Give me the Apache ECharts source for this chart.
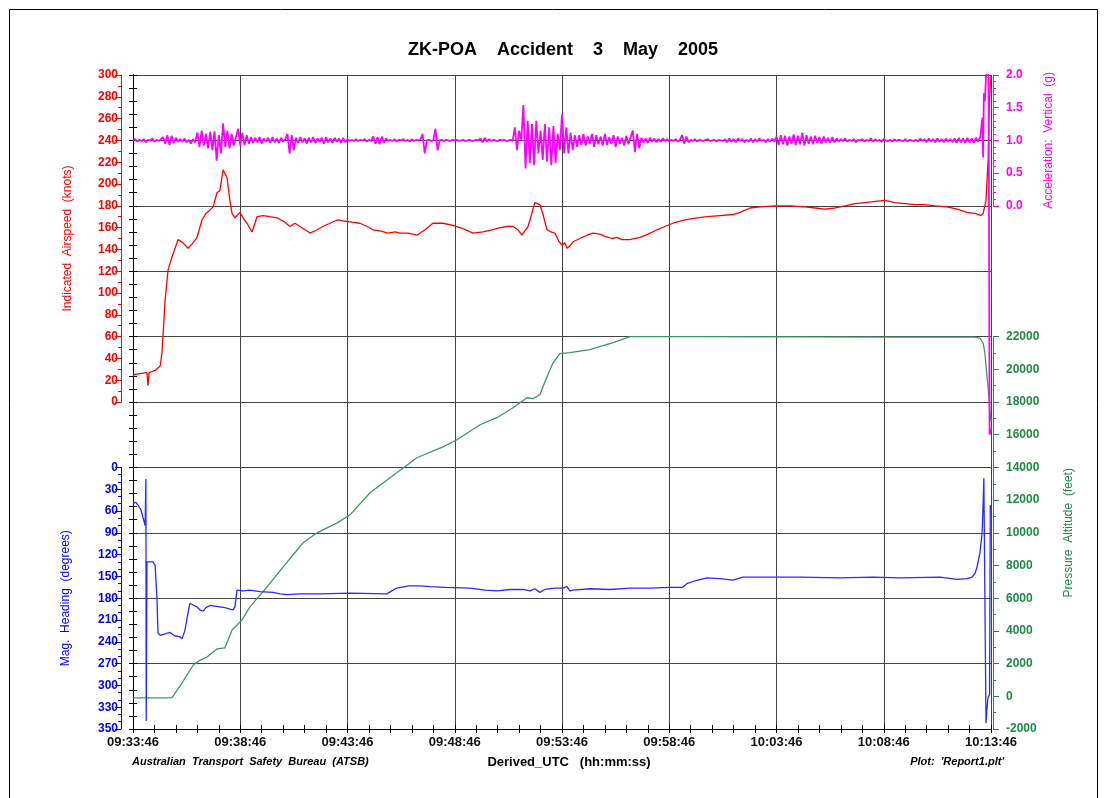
<!DOCTYPE html>
<html>
<head>
<meta charset="utf-8">
<script src="https://cdn.jsdelivr.net/npm/echarts@6/dist/echarts.min.js"></script>
<style>
html,body{margin:0;padding:0;background:#fff;}
#chart{width:1106px;height:798px;}
</style>
</head>
<body>
<div id="chart"></div>
<script>
// ---- time axis (seconds after 09:33:46) ----
const timeTickLabels = ['09:33:46','09:38:46','09:43:46','09:48:46','09:53:46','09:58:46','10:03:46','10:08:46','10:13:46'];
const headingTickLabels = ['0','30','60','90','120','150','180','210','240','270','300','330','350'];

// ---- Indicated airspeed (knots): [seconds, kt] ----
const airspeed = [
[0,25],[20,26],[39,27],[42,15],[45,27],[62,29],[76,33],[81,45],[90,94],[98,121],[109,133],[126,149],[140,146],
[154,141],[168,146],[179,151],[193,167],[204,173],[215,176],[224,179],[235,192],[243,194],[252,213],[263,206],
[271,185],[277,173],[285,169],[299,174],[310,168],[319,164],[333,156],[347,170],[364,171],[383,170],[403,169],
[425,165],[439,161],[453,164],[467,161],[495,155],[515,158],[531,161],[551,164],[571,167],[593,166],[613,165],
[635,164],[655,161],[671,158],[691,157],[713,155],[733,156],[747,155],[769,155],[794,153],[817,158],[839,164],
[867,164],[895,162],[923,159],[951,155],[979,156],[1004,158],[1027,160],[1046,161],[1063,161],[1077,158],
[1088,153],[1096,157],[1105,161],[1113,170],[1124,183],[1138,181],[1147,172],[1158,158],[1169,156],[1180,155],
[1192,147],[1200,144],[1208,146],[1214,141],[1222,143],[1231,147],[1250,150],[1270,153],[1287,155],[1306,154],
[1320,152],[1340,150],[1354,151],[1368,149],[1390,149],[1418,151],[1441,154],[1466,158],[1488,161],[1510,164],
[1544,167],[1578,169],[1606,170],[1642,171],[1678,172],[1698,174],[1726,178],[1754,179],[1796,180],[1838,180],
[1880,179],[1908,178],[1935,177],[1964,178],[1992,180],[2020,182],[2048,183],[2076,184],[2104,185],[2131,183],
[2159,182],[2187,181],[2215,181],[2243,180],[2277,179],[2305,177],[2333,174],[2355,173],[2366,172],[2372,171],
[2378,173],[2386,185],[2392,222],[2394,260],[2397,285],[2400,300]
];

// ---- Vertical acceleration (g): sampled every 6 s from 09:33:46 ----
const accelStepSec = 6;
const accelValues = [
1.00,1.02,0.98,1.01,0.99,1.02,0.97,1.01,1.00,1.03,0.98,1.01,0.99,1.02,
1.05,0.95,1.08,0.93,1.07,0.96,1.04,0.98,
1.02,0.98,1.03,0.97,1.01,0.95,1.02,0.97,
1.12,0.90,1.15,0.92,1.10,0.88,1.13,
0.85,1.14,0.69,1.08,0.80,
1.26,0.90,1.15,0.88,1.10,0.92,1.05,1.18,0.92,1.12,0.93,1.08,0.95,1.05,
0.96,1.04,0.97,1.05,0.95,1.03,0.98,1.04,0.96,1.05,0.97,1.03,0.96,1.04,0.98,1.02,
1.10,0.80,1.08,0.85,
1.04,0.96,1.05,0.97,1.03,0.95,1.04,0.97,1.05,0.96,1.03,0.98,1.04,0.95,1.05,0.97,1.03,0.96,1.04,0.98,1.03,0.96,1.04,0.97,1.02,
0.99,1.01,0.99,1.02,0.99,1.01,1.00,1.02,0.98,1.01,0.99,
1.06,0.95,1.05,0.94,1.06,0.96,1.03,
0.99,1.01,0.99,1.02,0.98,1.01,1.00,1.02,0.99,1.01,0.98,1.02,0.99,1.01,1.00,1.01,
1.10,0.80,
1.00,1.01,0.99,1.00,
1.18,0.85,
1.00,1.01,0.99,1.01,1.00,0.99,1.01,1.00,1.01,0.99,1.00,1.01,0.99,1.00,1.01,0.99,1.00,1.01,1.00,
1.03,0.97,1.04,0.98,1.02,
0.99,1.01,1.00,0.99,1.01,1.00,1.01,0.99,1.00,1.01,0.99,
1.20,0.85,1.15,
1.00,1.54,0.57,1.30,0.65,1.25,0.62,1.30,0.80,1.15,0.70,1.25,0.68,1.20,0.62,1.22,0.65,1.10,0.85,1.40,0.80,1.20,0.80,1.12,0.85,1.08,
0.90,1.08,0.93,1.10,0.92,1.06,0.95,1.10,0.90,1.08,0.94,1.06,0.92,1.10,0.93,1.05,0.95,1.08,0.90,1.06,0.95,1.04,0.92,1.07,0.94,1.05,
1.15,0.82,1.10,0.88,
1.04,0.97,1.03,0.96,1.04,0.98,1.03,0.97,1.02,0.98,1.03,0.99,1.02,0.98,1.01,0.99,1.02,0.98,1.01,
1.08,0.95,1.06,0.97,
1.01,0.99,1.02,0.98,1.01,1.00,0.99,1.01,1.02,0.99,1.00,1.01,0.98,1.01,1.00,0.99,
1.02,0.97,1.03,0.98,1.02,0.97,1.03,0.99,1.02,0.97,1.01,0.98,1.03,0.97,1.02,0.98,1.03,0.99,1.01,0.97,1.02,0.98,1.03,0.98,
1.06,0.93,1.08,0.94,1.07,0.92,1.06,0.95,1.09,0.93,1.07,0.94,1.12,0.92,1.08,0.95,1.06,0.94,1.07,0.96,1.05,0.95,1.06,0.97,1.04,0.96,1.05,0.97,1.03,
0.98,1.02,0.99,1.03,0.98,1.01,0.99,1.02,0.97,1.01,
1.00,1.02,0.98,1.01,0.99,1.03,0.98,1.02,0.99,1.01,
0.98,1.02,1.00,0.99,1.01,0.98,1.02,0.99,1.01,1.00,
0.99,1.02,0.98,1.01,1.00,0.99,1.01,0.98,1.03,0.99,
1.02,0.97,1.03,0.98,1.02,0.97,1.03,0.98,1.02,0.97,
1.03,0.98,1.02,0.97,1.03,0.96,1.04,0.97,1.03,0.96,
1.04,0.97,1.03,0.96,1.04,0.98
];
const accelTail = [[2370,1.05],[2373,1.20],[2376,1.35],[2378,0.74],[2380,1.72],[2383,1.60],[2386,1.97],[2389,2.30],[2392,2.60],[2394,0.90],[2396,-3.50],[2400,-3.40]];

// ---- Pressure altitude (feet): [seconds, ft] ----
const altitude = [
[0,-100],[48,-100],[90,-100],[109,-80],[131,600],[168,1900],[187,2200],[207,2400],[235,2900],[257,2960],
[277,4060],[305,4670],[327,5470],[375,6690],[420,7920],[476,9390],[515,10000],[571,10610],[607,11100],
[663,12450],[719,13370],[794,14590],[867,15260],[906,15690],[971,16610],[1018,17040],[1063,17650],[1102,18260],
[1119,18200],[1138,18450],[1158,19550],[1175,20400],[1194,20960],[1222,21020],[1278,21200],[1343,21630],
[1390,22000],[1586,22000],[1866,21980],[2145,21970],[2355,21970],[2369,21900],[2378,21600],[2383,21000],
[2389,19500],[2392,18900],[2397,17500],[2400,16800]
];

// ---- Magnetic heading (degrees): [seconds, deg] ----
const heading = [
[0,49],[8,48],[14,52],[22,58],[28,69],[34,80],[36,16],[37,349],[39,130],[45,130],[48,128],[56,130],[62,135],
[67,180],[70,228],[76,231],[90,229],[103,227],[117,232],[131,233],[137,236],[145,225],[154,200],[159,187],
[171,190],[179,192],[187,196],[196,198],[204,193],[215,190],[229,191],[243,192],[257,193],[271,195],[280,196],
[285,192],[291,169],[308,170],[327,169],[355,171],[392,172],[411,174],[431,175],[467,174],[523,174],[607,173],
[710,174],[724,170],[738,166],[772,163],[803,163],[831,164],[873,165],[943,166],[985,169],[1018,170],[1055,168],
[1091,168],[1110,170],[1124,167],[1138,172],[1152,168],[1180,166],[1203,166],[1214,164],[1222,170],[1231,169],
[1278,167],[1334,168],[1390,166],[1446,166],[1502,165],[1538,165],[1549,160],[1572,156],[1605,152],[1642,153],
[1678,155],[1706,151],[1754,151],[1866,151],[1978,152],[2070,151],[2145,152],[2257,151],[2305,154],[2333,153],
[2347,151],[2355,146],[2361,137],[2369,118],[2375,91],[2378,50],[2380,15],[2383,15],[2386,352],[2389,330],
[2392,316],[2396,313],[2398,52],[2400,60]
];

const FONT = "'Liberation Sans', Arial, sans-serif";
const RED = '#ff0000', MAG = '#ff00ff', GRN = '#1e8a45', BLU = '#0000ff';
const GRID_C = '#444444';

const accelData = accelValues.map((v, i) => [i * accelStepSec, v]).concat(accelTail);

function visAxis(o) {
  return Object.assign({
    type: 'value',
    axisLine: {show: true, lineStyle: {color: o.color, width: 1}},
    axisTick: {show: true, inside: false, length: 6, lineStyle: {color: o.color}},
    minorTick: {show: true, splitNumber: o.minor, length: 3, lineStyle: {color: o.color}},
    splitLine: {show: false},
    axisLabel: {color: o.color, fontSize: 12, fontWeight: 'bold', fontFamily: FONT, margin: 3, formatter: o.fmt,
                showMinLabel: true, showMaxLabel: true},
    nameLocation: 'middle', nameRotate: 90,
    nameTextStyle: {color: o.color, fontSize: 12, fontFamily: FONT}
  }, o.extra);
}

function frameTicks(extra) {
  return Object.assign({
    type: 'value',
    axisLine: {show: true, lineStyle: {color: '#000'}},
    axisTick: {show: true, inside: true, length: 4, lineStyle: {color: '#000'}},
    splitLine: {show: false}, axisLabel: {show: false}
  }, extra);
}

const option = {
  animation: false,
  backgroundColor: '#ffffff',
  textStyle: {fontFamily: FONT},
  grid: [
    {left: 133, top: 75, width: 858, height: 654, outerBoundsMode: 'none'},
    {left: 121, top: 75, width: 10, height: 327, outerBoundsMode: 'none'},
    {left: 121, top: 467.4, width: 10, height: 261.6, outerBoundsMode: 'none'},
    {left: 993, top: 75, width: 10, height: 130.8, outerBoundsMode: 'none'},
    {left: 993, top: 336.6, width: 10, height: 392.4, outerBoundsMode: 'none'}
  ],
  xAxis: [
    {gridIndex: 0, type: 'value', position: 'bottom', min: 0, max: 2400, interval: 300,
     axisLine: {lineStyle: {color: '#000'}},
     axisTick: {show: false},
     splitLine: {show: true, lineStyle: {color: GRID_C, width: 1}},
     axisLabel: {formatter: v => timeTickLabels[Math.round(v / 300)], fontSize: 13, fontWeight: 'bold',
                 fontFamily: FONT, color: '#111', margin: 7, showMinLabel: true, showMaxLabel: true}},
    frameTicks({gridIndex: 0, position: 'top', min: 0, max: 2400, interval: 60}),
    frameTicks({gridIndex: 0, position: 'bottom', min: 0, max: 2400, interval: 60}),
    {gridIndex: 1, type: 'value', min: 0, max: 1, show: false},
    {gridIndex: 2, type: 'value', min: 0, max: 1, show: false},
    {gridIndex: 3, type: 'value', min: 0, max: 1, show: false},
    {gridIndex: 4, type: 'value', min: 0, max: 1, show: false}
  ],
  yAxis: [
    {gridIndex: 0, type: 'value', position: 'left', min: 0, max: 50, interval: 5,
     axisLine: {show: true, lineStyle: {color: '#000'}}, axisTick: {show: false},
     splitLine: {show: true, lineStyle: {color: GRID_C, width: 1}}, axisLabel: {show: false}},
    frameTicks({gridIndex: 0, position: 'left', min: 0, max: 50, interval: 1}),
    frameTicks({gridIndex: 0, position: 'right', min: 0, max: 50, interval: 1}),
    // data axes (hidden, span whole plot)
    {gridIndex: 0, type: 'value', position: 'left', min: -300, max: 300, show: false},
    {gridIndex: 0, type: 'value', position: 'right', min: -8, max: 2, show: false},
    {gridIndex: 0, type: 'value', position: 'right', min: -2000, max: 38000, show: false},
    {gridIndex: 0, type: 'value', position: 'left', min: -540, max: 360, inverse: true, show: false},
    // visible axes
    visAxis({color: RED, minor: 2, fmt: v => String(v),
      extra: {gridIndex: 1, position: 'left', min: 0, max: 300, interval: 20,
              name: 'Indicated  Airspeed  (knots)', nameGap: 47}}),
    visAxis({color: BLU, minor: 3, fmt: v => headingTickLabels[Math.round(v / 30)],
      extra: {gridIndex: 2, position: 'left', min: 0, max: 360, interval: 30, inverse: true,
              name: 'Mag.  Heading  (degrees)', nameGap: 49}}),
    visAxis({color: MAG, minor: 5, fmt: v => v.toFixed(1),
      extra: {gridIndex: 3, position: 'right', min: 0, max: 2, interval: 0.5,
              name: 'Acceleration:  Vertical  (g)', nameGap: 40}}),
    visAxis({color: GRN, minor: 2, fmt: v => String(v),
      extra: {gridIndex: 4, position: 'right', min: -2000, max: 22000, interval: 2000,
              name: 'Pressure  Altitude  (feet)', nameGap: 60}})
  ],
  series: [
    {type: 'line', name: 'Pressure Altitude', xAxisIndex: 0, yAxisIndex: 5, data: altitude,
     showSymbol: false, lineStyle: {color: '#3a9a62', width: 1.3}, itemStyle: {color: '#3a9a62'}},
    {type: 'line', name: 'Mag Heading', xAxisIndex: 0, yAxisIndex: 6, data: heading,
     showSymbol: false, lineStyle: {color: '#2a2aff', width: 1.3}, itemStyle: {color: '#2a2aff'}},
    {type: 'line', name: 'Indicated Airspeed', xAxisIndex: 0, yAxisIndex: 3, data: airspeed,
     showSymbol: false, lineStyle: {color: RED, width: 1.3}, itemStyle: {color: RED}},
    {type: 'line', name: 'Vertical Acceleration', xAxisIndex: 0, yAxisIndex: 4, data: accelData,
     showSymbol: false, lineStyle: {color: MAG, width: 1.8}, itemStyle: {color: MAG}}
  ],
  graphic: [
    {type: 'rect', silent: true, shape: {x: 9.5, y: 9.5, width: 1088, height: 820},
     style: {fill: 'none', stroke: '#000', lineWidth: 1}},
    {type: 'text', x: 563, y: 50, silent: true,
     style: {text: 'ZK-POA    Accident    3    May    2005', fill: '#000', font: "bold 18px 'Liberation Sans', Arial, sans-serif",
             textAlign: 'center', textVerticalAlign: 'middle'}},
    {type: 'text', x: 132, y: 762, silent: true,
     style: {text: 'Australian  Transport  Safety  Bureau  (ATSB)', fill: '#000',
             font: "italic bold 11px 'Liberation Sans', Arial, sans-serif", textAlign: 'left', textVerticalAlign: 'middle'}},
    {type: 'text', x: 569, y: 762, silent: true,
     style: {text: 'Derived_UTC   (hh:mm:ss)', fill: '#000',
             font: "bold 13px 'Liberation Sans', Arial, sans-serif", textAlign: 'center', textVerticalAlign: 'middle'}},
    {type: 'text', x: 1004, y: 762, silent: true,
     style: {text: "Plot:  'Report1.plt'", fill: '#000',
             font: "italic bold 11px 'Liberation Sans', Arial, sans-serif", textAlign: 'right', textVerticalAlign: 'middle'}}
  ]
};

const chart = echarts.init(document.getElementById('chart'), null, {renderer: 'canvas'});
chart.setOption(option);
</script>
</body>
</html>
